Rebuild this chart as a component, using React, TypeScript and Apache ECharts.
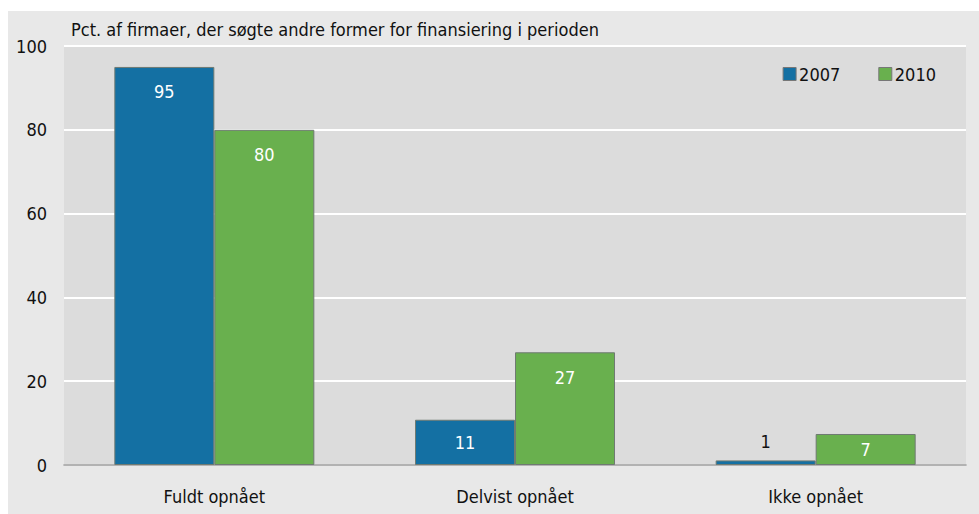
import React, { useEffect, useRef } from "react";
import * as echarts from "echarts";

const categories = ["Fuldt opnået", "Delvist opnået", "Ikke opnået"];
const seriesNames = ["2007", "2010"];
const values2007 = [95, 10.8, 1.1];
const values2010 = [80, 26.9, 7.4];
const yTicks = [0, 20, 40, 60, 80, 100];
const title = "Pct. af firmaer, der søgte andre former for finansiering i perioden";

const FONT = "'DejaVu Sans Condensed', sans-serif";
const colors = ["#1470a3", "#69b04e"];

function makeData(vals: number[]) {
  return vals.map((v) => {
    if (v < 3) {
      return { value: v, label: { position: "top", distance: 10, color: "#111" } };
    }
    if (v < 15) {
      return { value: v, label: { position: "inside", color: "#fff" } };
    }
    return { value: v, label: { position: "insideTop", distance: 16, color: "#fff" } };
  });
}

export default function App() {
  const ref = useRef<HTMLDivElement>(null);
  useEffect(() => {
    if (!ref.current) return;
    const chart = echarts.init(ref.current, undefined, { renderer: "svg" });
    const seriesVals = [values2007, values2010];
    chart.setOption({
      animation: false,
      backgroundColor: "#e8e8e8",
      textStyle: { fontFamily: FONT },
      title: {
        text: title,
        left: 58,
        top: 4,
        textStyle: { fontFamily: FONT, fontSize: 18, fontWeight: "normal", color: "#111" },
      },
      legend: {
        right: 38,
        top: 49,
        itemWidth: 13,
        itemHeight: 13,
        itemGap: 38,
        textStyle: { fontFamily: FONT, fontSize: 18, color: "#111", padding: [0, 0, 0, -2] },
        data: seriesNames.map((n, i) => ({
          name: n,
          icon: "rect",
          itemStyle: { color: colors[i], borderColor: "#777", borderWidth: 1 },
        })),
      },
      grid: {
        left: 56,
        right: 13,
        top: 35,
        bottom: 49,
        show: true,
        backgroundColor: "#dcdcdc",
        borderWidth: 0,
      },
      xAxis: {
        type: "category",
        data: categories,
        axisLine: { show: true, lineStyle: { color: "#999", width: 1.5 } },
        axisTick: { show: false },
        axisLabel: { fontFamily: FONT, fontSize: 18, color: "#111", margin: 22 },
      },
      yAxis: {
        type: "value",
        min: yTicks[0],
        max: yTicks[yTicks.length - 1],
        interval: 20,
        axisLine: { show: false },
        axisTick: { show: false },
        axisLabel: { fontFamily: FONT, fontSize: 18, color: "#111", margin: 17 },
        splitLine: { show: true, lineStyle: { color: "#ffffff", width: 2 } },
      },
      series: seriesNames.map((n, i) => ({
        name: n,
        type: "bar",
        data: makeData(seriesVals[i]),
        barWidth: 100,
        barGap: "0%",
        itemStyle: { color: colors[i], borderColor: "#6f7a72", borderWidth: 1 },
        label: {
          show: true,
          fontFamily: FONT,
          fontSize: 18,
          formatter: (p: any) => String(Math.round(p.value)),
        },
      })),
    });
    return () => chart.dispose();
  }, []);
  return (
    <div
      ref={ref}
      style={{ position: "absolute", left: 8, top: 11, width: 971, height: 503 }}
    />
  );
}
